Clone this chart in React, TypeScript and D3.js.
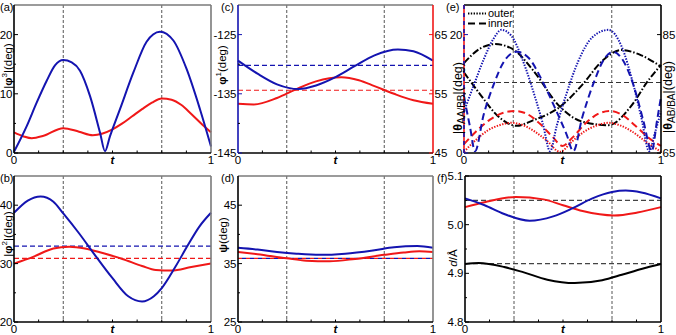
import React, { useEffect, useRef } from "react";
import * as d3 from "d3";

type Pt = [number, number];

const BLUE = "#1414b0";
const RED = "#f01818";
const GRAY = "#7a7a7a";
const FONT = "Liberation Sans, Arial, sans-serif";

// (a) |phi3| over one period
const aBlue: Pt[] = [[0, 0.2], [0.064, 4.5], [0.115, 8.5], [0.166, 12.2], [0.208, 14.8], [0.25, 15.7], [0.293, 15.3], [0.335, 13.9], [0.386, 9.6], [0.437, 3.4], [0.462, 0.3], [0.487, 2.8], [0.538, 7.4], [0.606, 13.6], [0.673, 18.8], [0.741, 20.5], [0.809, 19.0], [0.876, 14.2], [0.944, 7.4], [1, 1.1]];
const aRed: Pt[] = [[0, 3.5], [0.05, 2.8], [0.09, 2.5], [0.15, 2.9], [0.25, 4.2], [0.33, 3.6], [0.4, 3.0], [0.45, 3.3], [0.5, 4.0], [0.55, 5.0], [0.6, 6.2], [0.65, 7.4], [0.7, 8.5], [0.75, 9.2], [0.8, 9.0], [0.85, 8.1], [0.9, 6.6], [0.95, 5.0], [1, 3.5]];

// (b) |phi2|
const bBlue: Pt[] = [[0, 38.7], [0.07, 40.8], [0.135, 41.5], [0.2, 40.6], [0.25, 38.6], [0.33, 35.2], [0.41, 31.5], [0.5, 27.5], [0.58, 24.4], [0.65, 23.5], [0.71, 24.4], [0.75, 25.8], [0.82, 29.5], [0.88, 33.0], [0.94, 36.3], [1, 38.7]];
const bRed: Pt[] = [[0, 30.0], [0.1, 31.2], [0.2, 32.6], [0.28, 32.9], [0.36, 32.6], [0.45, 31.8], [0.55, 30.8], [0.65, 29.6], [0.72, 28.9], [0.8, 28.8], [0.9, 29.4], [1, 30.0]];
const bMeans = [33.0, 30.9];

// (c) phi1 (blue, left) and the red series on the right axis
const cBlue: Pt[] = [[0, -129.4], [0.1, -131.6], [0.2, -133.4], [0.31, -134.2], [0.4, -133.6], [0.5, -132.2], [0.6, -130.3], [0.7, -128.5], [0.82, -127.5], [0.9, -127.8], [1, -129.4]];
const cRed: Pt[] = [[0, 53.3], [0.08, 53.2], [0.2, 54.3], [0.3, 55.8], [0.4, 57.1], [0.53, 57.8], [0.62, 57.3], [0.7, 56.3], [0.8, 55.0], [0.9, 53.9], [1, 53.3]];
const cMeans = [-130.2, 55.6];

// (d) psi
const dBlue: Pt[] = [[0, 37.7], [0.1, 37.4], [0.2, 37.0], [0.3, 36.7], [0.42, 36.5], [0.55, 36.7], [0.7, 37.3], [0.8, 37.8], [0.92, 38.0], [1, 37.7]];
const dRed: Pt[] = [[0, 37.0], [0.1, 36.6], [0.25, 35.9], [0.35, 35.5], [0.47, 35.4], [0.6, 35.8], [0.75, 36.5], [0.85, 36.9], [0.93, 37.1], [1, 37.0]];
const dMean = 35.9;

// (e) theta, outer = dotted, inner = dashed, black on right axis
const eBlueOuter: Pt[] = [[0, 7], [0.05, 11.5], [0.1, 15.8], [0.15, 19.3], [0.19, 20.8], [0.24, 19.8], [0.3, 15.5], [0.36, 9.5], [0.4, 5], [0.437, 0.3], [0.47, 4.5], [0.52, 10], [0.58, 15.5], [0.65, 19.5], [0.733, 20.8], [0.8, 18], [0.86, 11.5], [0.9, 6], [0.94, 0.3], [0.97, 3.5], [1, 7]];
const eBlueInner: Pt[] = [[0, 9.5], [0.03, 4.5], [0.056, 0.3], [0.1, 6.5], [0.15, 11.5], [0.2, 15.3], [0.267, 17.1], [0.33, 16], [0.4, 12], [0.47, 7], [0.52, 3.2], [0.555, 0.3], [0.6, 6], [0.66, 12], [0.71, 15.8], [0.758, 17.1], [0.8, 16], [0.86, 11.5], [0.91, 5.5], [0.953, 0.3], [0.98, 5.5], [1, 9.5]];
const eRedOuter: Pt[] = [[0, 0.2], [0.06, 2.2], [0.12, 3.8], [0.18, 4.7], [0.242, 5.1], [0.3, 4.7], [0.36, 3.6], [0.42, 2.1], [0.487, 0.2], [0.55, 2.0], [0.61, 3.6], [0.67, 4.6], [0.733, 5.1], [0.79, 4.7], [0.85, 3.7], [0.92, 2.0], [1, 0.2]];
const eRedInner: Pt[] = [[0, 1.5], [0.06, 3.6], [0.13, 5.6], [0.2, 6.8], [0.259, 7.1], [0.32, 6.6], [0.39, 4.8], [0.45, 2.7], [0.5, 1.2], [0.55, 2.6], [0.62, 5.1], [0.68, 6.6], [0.741, 7.1], [0.8, 6.5], [0.87, 4.6], [0.94, 2.5], [1, 1.2]];
const eBlackA: Pt[] = [[0, 80.2], [0.08, 82.6], [0.157, 83.4], [0.25, 82.5], [0.35, 79], [0.487, 72.8], [0.6, 70.3], [0.733, 69.7], [0.85, 73], [0.93, 77], [1, 79.9]];
const eBlackB: Pt[] = [[0, 78.6], [0.08, 75], [0.17, 71.3], [0.267, 69.6], [0.35, 70.5], [0.487, 72.8], [0.6, 76.5], [0.7, 80.5], [0.8, 82.4], [0.9, 81.5], [1, 79.6]];
const eMean = 76.9;

// (f) d
const fBlue: Pt[] = [[0, 5.054], [0.1, 5.04], [0.2, 5.022], [0.33, 5.008], [0.45, 5.017], [0.55, 5.034], [0.65, 5.054], [0.75, 5.067], [0.82, 5.07], [0.9, 5.066], [1, 5.054]];
const fRed: Pt[] = [[0, 5.036], [0.1, 5.046], [0.26, 5.057], [0.4, 5.052], [0.5, 5.04], [0.6, 5.028], [0.76, 5.019], [0.88, 5.025], [1, 5.036]];
const fBlack: Pt[] = [[0, 4.919], [0.07, 4.921], [0.2, 4.913], [0.3, 4.902], [0.42, 4.887], [0.56, 4.88], [0.7, 4.886], [0.8, 4.897], [0.9, 4.909], [1, 4.919]];
const fMeans = [5.05, 4.92];

const markT = [0.25, 0.75];
const aTicks = [0, 10, 20];
const bTicks = [20, 30, 40];
const cTicks = [-145, -135, -125];
const cTicksR = [45, 55, 65];
const dTicks = [25, 35, 45];
const eTicks = [0, 20];
const eTicksR = [65, 85];
const fTicks = [4.8, 4.9, 5.0, 5.1];

type Part = { s: string; b?: boolean; i?: boolean; sup?: boolean; sub?: boolean };

function rich(text: any, parts: Part[], size: number, small = 0.7) {
  let shift = 0;
  parts.forEach(p => {
    const target = p.sup ? -size * 0.4 : p.sub ? size * 0.25 : 0;
    const ts = text.append("tspan").text(p.s)
      .attr("dy", target - shift)
      .attr("font-size", p.sup || p.sub ? size * small : size);
    if (p.b) ts.attr("font-weight", "bold");
    if (p.i) ts.attr("font-style", "italic");
    shift = target;
  });
}

function App() {
  const ref = useRef<SVGSVGElement>(null);

  useEffect(() => {
    const svg = d3.select(ref.current);
    svg.selectAll("*").remove();

    const panels: any[] = [
      {
        box: [14, 5, 211, 153], dom: [0, 25], ticks: aTicks,
        series: [{ d: aRed, c: RED }, { d: aBlue, c: BLUE }], hl: [],
        letter: "(a)", lxy: [0, 11],
        label: [{ s: "|" }, { s: "φ", b: true }, { s: "3", sup: true }, { s: "|(deg)" }], lab: [11.5, 66, 11.5],
        frame: ["#000", GRAY, GRAY, "#000"]
      },
      {
        box: [14, 176, 211, 322], dom: [20, 45], ticks: bTicks,
        series: [{ d: bRed, c: RED }, { d: bBlue, c: BLUE }],
        hl: [{ v: bMeans[0], c: BLUE }, { v: bMeans[1], c: RED }],
        letter: "(b)", lxy: [0, 182],
        label: [{ s: "|" }, { s: "φ", b: true }, { s: "2", sup: true }, { s: "|(deg)" }], lab: [11.5, 234, 11.5],
        frame: ["#000", GRAY, GRAY, "#000"]
      },
      {
        box: [238, 5, 433, 153], dom: [-145, -120], ticks: cTicks, dom2: [45, 70], ticks2: cTicksR,
        series: [{ d: cRed, c: RED, right: true }, { d: cBlue, c: BLUE }],
        hl: [{ v: cMeans[0], c: BLUE }, { v: cMeans[1], c: RED, right: true }],
        letter: "(c)", lxy: [221, 11],
        label: [{ s: "φ", b: true }, { s: "1", sup: true }, { s: "(deg)" }], lab: [226, 65, 11.5],
        frame: [BLUE, GRAY, RED, "#000"]
      },
      {
        box: [238, 176, 433, 322], dom: [25, 50], ticks: dTicks,
        series: [{ d: dRed, c: RED }, { d: dBlue, c: BLUE }],
        hl: [{ v: dMean, c: RED, dash: "4,4" }, { v: dMean, c: BLUE, dash: "4,4", off: 4 }],
        letter: "(d)", lxy: [221, 182],
        label: [{ s: "ψ", b: true }, { s: "(deg)" }], lab: [226.5, 235, 11.5],
        frame: ["#000", GRAY, GRAY, "#000"]
      },
      {
        box: [464, 5, 661, 153], dom: [0, 25], ticks: eTicks, dom2: [65, 90], ticks2: eTicksR,
        series: [
          { d: eBlackA, c: "#000", right: true, dash: "7,2,1.5,2" },
          { d: eBlackB, c: "#000", right: true, dash: "7,2,1.5,2" },
          { d: eRedOuter, c: RED, dash: "1.4,1.4" },
          { d: eRedInner, c: RED, dash: "7,4" },
          { d: eBlueOuter, c: BLUE, dash: "1.4,1.4" },
          { d: eBlueInner, c: BLUE, dash: "7,4" }
        ],
        hl: [{ v: eMean, c: "#333", right: true }],
        letter: "(e)", lxy: [446, 11],
        label: [{ s: "|" }, { s: "θ", b: true }, { s: "AA/BB", sub: true }, { s: "|(deg)" }], lab: [461.5, 98, 12.5],
        label2: [{ s: "|" }, { s: "θ", b: true }, { s: "AB/BA", sub: true }, { s: "|(deg)" }], lab2: [672, 97, 12.5],
        frame: ["redblue", "#000", "#000", "#000"]
      },
      {
        box: [465, 176, 661, 322], dom: [4.8, 5.1], ticks: fTicks, fmt: (v: number) => v.toFixed(1),
        series: [{ d: fBlack, c: "#000" }, { d: fRed, c: RED }, { d: fBlue, c: BLUE }],
        hl: [{ v: fMeans[0], c: "#444" }, { v: fMeans[1], c: "#444" }],
        letter: "(f)", lxy: [437, 182],
        label: [{ s: "d", i: true }, { s: "/Å" }], lab: [457, 258, 11.5],
        frame: ["#000", "#000", "#000", "#000"]
      }
    ];

    panels.forEach(p => {
      const [L, T, R, B] = p.box;
      const x = d3.scaleLinear().domain([0, 1]).range([L, R]);
      const y = d3.scaleLinear().domain(p.dom).range([B, T]);
      const y2 = p.dom2 ? d3.scaleLinear().domain(p.dom2).range([B, T]) : y;
      const g = svg.append("g");

      markT.forEach(t => {
        g.append("line")
          .attr("x1", x(t)).attr("x2", x(t)).attr("y1", T).attr("y2", B)
          .attr("stroke", "#555").attr("stroke-width", 1).attr("stroke-dasharray", "3,2");
      });

      p.hl.forEach((h: any) => {
        const sc = h.right ? y2 : y;
        g.append("line")
          .attr("x1", L).attr("x2", R).attr("y1", sc(h.v)).attr("y2", sc(h.v))
          .attr("stroke", h.c).attr("stroke-width", 1.1)
          .attr("stroke-dasharray", h.dash || "5,3")
          .attr("stroke-dashoffset", h.off || 0);
      });

      p.series.forEach((s: any) => {
        const sc = s.right ? y2 : y;
        const line = d3.line<Pt>().x(d => x(d[0])).y(d => sc(d[1])).curve(d3.curveMonotoneX);
        g.append("path").attr("d", line(s.d)).attr("fill", "none")
          .attr("stroke", s.c).attr("stroke-width", 2)
          .attr("stroke-dasharray", s.dash || null);
      });

      // frame: left, top, right, bottom
      const [cl, ct, cr, cb] = p.frame;
      const seg = (x1: number, y1: number, x2: number, y2_: number, c: string, dash?: string) =>
        g.append("line").attr("x1", x1).attr("y1", y1).attr("x2", x2).attr("y2", y2_)
          .attr("stroke", c).attr("stroke-width", 1.6).attr("stroke-dasharray", dash || null);
      seg(L, T, R, T, ct);
      seg(R, T, R, B, cr);
      seg(L, B, R, B, cb);
      if (cl === "redblue") {
        seg(L, T, L, B, RED);
        seg(L, T, L, B, BLUE, "4,4");
      } else {
        seg(L, T, L, B, cl);
      }

      // x ticks (minor, inward)
      d3.range(1, 8).forEach(k => {
        const xx = x(k * 0.125);
        g.append("line").attr("x1", xx).attr("x2", xx).attr("y1", B).attr("y2", B - 2.5)
          .attr("stroke", "#000").attr("stroke-width", 1);
      });
      const fmt = p.fmt || ((v: number) => String(v));
      const tickStyle = (t: any) => t.attr("font-family", FONT).attr("font-size", 11.5).attr("fill", "#000");

      [["0", 0], ["1", 1]].forEach(([s, v]: any) => {
        tickStyle(g.append("text")).attr("x", x(v)).attr("y", B + 11).attr("text-anchor", "middle").text(s);
      });
      tickStyle(g.append("text")).attr("x", x(0.5)).attr("y", B + 11).attr("text-anchor", "middle")
        .attr("font-weight", "bold").attr("font-style", "italic").text("t");

      // left ticks
      const tk = p.ticks as number[];
      const step = tk[1] - tk[0];
      tk.forEach(v => {
        g.append("line").attr("x1", L).attr("x2", L + 4).attr("y1", y(v)).attr("y2", y(v))
          .attr("stroke", cl === "redblue" ? BLUE : cl).attr("stroke-width", 1);
        tickStyle(g.append("text")).attr("x", L - 1.5).attr("y", y(v)).attr("dy", "0.36em")
          .attr("text-anchor", "end").text(fmt(v));
      });
      tk.forEach(v => {
        const m = v + step / 2;
        if (m < p.dom[1]) {
          g.append("line").attr("x1", L).attr("x2", L + 2).attr("y1", y(m)).attr("y2", y(m))
            .attr("stroke", "#000").attr("stroke-width", 1);
        }
      });

      if (p.ticks2) {
        p.ticks2.forEach((v: number) => {
          g.append("line").attr("x1", R).attr("x2", R - 4).attr("y1", y2(v)).attr("y2", y2(v))
            .attr("stroke", cr).attr("stroke-width", 1);
          tickStyle(g.append("text")).attr("x", R + 1.5).attr("y", y2(v)).attr("dy", "0.36em")
            .attr("text-anchor", "start").text(String(v));
        });
      }

      // panel letter
      g.append("text").attr("x", p.lxy[0]).attr("y", p.lxy[1])
        .attr("font-family", FONT).attr("font-size", 11).text(p.letter);

      // axis labels
      const lt = g.append("text")
        .attr("transform", `translate(${p.lab[0]},${p.lab[1]}) rotate(-90)`)
        .attr("text-anchor", "middle").attr("font-family", FONT);
      rich(lt, p.label, p.lab[2], p.label2 ? 0.8 : 0.7);
      if (p.label2) {
        const lt2 = g.append("text")
          .attr("transform", `translate(${p.lab2[0]},${p.lab2[1]}) rotate(-90)`)
          .attr("text-anchor", "middle").attr("font-family", FONT);
        rich(lt2, p.label2, p.lab2[2], 0.8);
      }
    });

    // legend in (e)
    const lg = svg.append("g");
    [["outer", "1.4,1.4", 13.5], ["inner", "7,4", 23.5]].forEach(([s, dash, yy]: any) => {
      lg.append("line").attr("x1", 468).attr("x2", 486).attr("y1", yy).attr("y2", yy)
        .attr("stroke", "#000").attr("stroke-width", 2).attr("stroke-dasharray", dash);
      lg.append("text").attr("x", 488).attr("y", yy + 3.5).attr("font-family", FONT)
        .attr("font-size", 11).text(s);
    });
  }, []);

  return (
    <svg ref={ref} width={676} height={335}
      style={{ position: "absolute", left: 0, top: 0, background: "#fff" }} />
  );
}

export default App;
